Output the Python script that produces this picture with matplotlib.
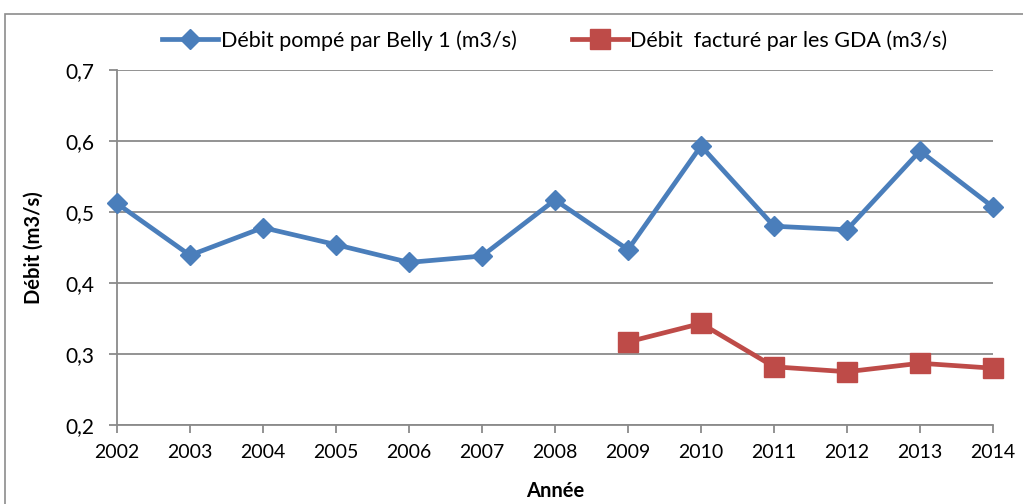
import matplotlib
matplotlib.use("Agg")
import matplotlib.pyplot as plt
from matplotlib.patches import Rectangle

years = [2002, 2003, 2004, 2005, 2006, 2007, 2008, 2009, 2010, 2011, 2012, 2013, 2014]
pumped = [0.512, 0.439, 0.478, 0.454, 0.429, 0.438, 0.517, 0.447, 0.593, 0.480, 0.475, 0.586, 0.507]
years_gda = [2009, 2010, 2011, 2012, 2013, 2014]
billed = [0.317, 0.343, 0.282, 0.275, 0.287, 0.280]

label_pumped = "Débit pompé par Belly 1 (m3/s)"
label_billed = "Débit  facturé par les GDA (m3/s)"
yticks = [0.2, 0.3, 0.4, 0.5, 0.6, 0.7]
ytick_labels = ["0,2", "0,3", "0,4", "0,5", "0,6", "0,7"]

plt.rcParams['font.family'] = ['Lato', 'DejaVu Sans']

W, H = 1023, 504
fig = plt.figure(figsize=(W / 100, H / 100), dpi=100)
ax = fig.add_axes([117 / W, (H - 425) / H, (993 - 117) / W, (425 - 70) / H])

# chart border
fig.patches.append(Rectangle((5 / W, -0.1), 1.1, (H - 14) / H + 0.1, transform=fig.transFigure,
                             fill=False, edgecolor='#8c8c8c', linewidth=1.2))

blue = '#4A7EBB'
red = '#BE4B48'
ax.plot(years, pumped, color=blue, lw=3.4, marker='D', markersize=10, label=label_pumped,
        zorder=3, clip_on=False)
ax.plot(years_gda, billed, color=red, lw=3.4, marker='s', markersize=14, label=label_billed,
        zorder=3, clip_on=False)

ax.set_xlim(2002, 2014)
ax.set_ylim(0.2, 0.7)
ax.set_yticks(yticks)
ax.set_yticklabels(ytick_labels)
ax.set_xticks(years)
ax.set_xticklabels([str(y) for y in years])
ax.grid(axis='y', color='#8a8a8a', lw=1.3)
ax.set_axisbelow(True)
for s in ['top', 'right']:
    ax.spines[s].set_visible(False)
for s in ['left', 'bottom']:
    ax.spines[s].set_color('#8a8a8a')
    ax.spines[s].set_linewidth(1.3)
ax.tick_params(axis='both', colors='#8a8a8a', length=6, width=1.3, labelcolor='black')
ax.tick_params(axis='y', labelsize=15, pad=10)
ax.tick_params(axis='x', labelsize=14, pad=8)

ax.set_ylabel("Débit (m3/s)", fontsize=14.5, fontweight='bold', labelpad=16)
ax.set_xlabel("Année", fontsize=14.5, fontweight='bold', labelpad=14)

ax.legend(loc='lower center', bbox_to_anchor=(0.5, 1.0), ncol=2, frameon=False,
          fontsize=15.5, handlelength=2.6, handletextpad=0.1, columnspacing=2.6)

fig.savefig("out.png", dpi=100)
